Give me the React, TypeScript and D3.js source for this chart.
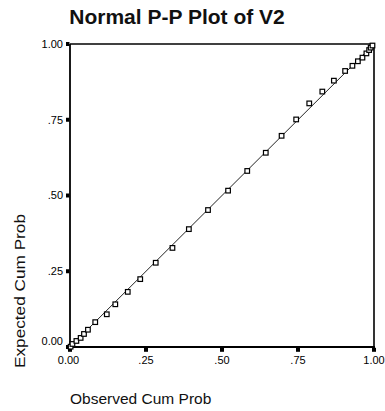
import React from "react";
import * as d3 from "d3";

const observed = [0.002, 0.008, 0.021, 0.035, 0.046, 0.059, 0.083, 0.121, 0.149, 0.19, 0.231, 0.282, 0.337, 0.391, 0.454, 0.52, 0.583, 0.644, 0.696, 0.744, 0.787, 0.83, 0.868, 0.905, 0.929, 0.947, 0.962, 0.975, 0.984, 0.989, 0.995];
const expected = [0.001, 0.01, 0.02, 0.03, 0.043, 0.057, 0.082, 0.108, 0.141, 0.182, 0.224, 0.278, 0.327, 0.389, 0.452, 0.516, 0.581, 0.641, 0.697, 0.751, 0.804, 0.843, 0.879, 0.911, 0.928, 0.943, 0.955, 0.969, 0.98, 0.988, 0.995];
const tickValues = [0, 0.25, 0.5, 0.75, 1];
const tickLabels = ["0.00", ".25", ".50", ".75", "1.00"];
const refLine = [0, 1];

const W = 385;
const H = 411;

export default function App() {
  const x = d3.scaleLinear().domain([0, 1]).range([70, 374]);
  const y = d3.scaleLinear().domain([0, 1]).range([347, 44]);
  const line = d3
    .line<number>()
    .x((d) => x(d))
    .y((d) => y(d));
  const font = "'Liberation Sans', Arial, sans-serif";
  return (
    <svg
      width={W}
      height={H}
      style={{ position: "absolute", left: 0, top: 0, background: "#fff" }}
      fontFamily={font}
    >
      <rect x={0} y={0} width={W} height={H} fill="#fff" />
      <text x={177} y={24} textAnchor="middle" fontSize={21} fontWeight="bold" fill="#111">
        Normal P-P Plot of V2
      </text>
      {/* reference line */}
      <path d={line(refLine) || ""} stroke="#222" strokeWidth={1} fill="none" />
      {/* frame */}
      <line x1={x(0)} x2={x(1)} y1={y(1)} y2={y(1)} stroke="#000" strokeWidth={1.6} />
      <line x1={x(1)} x2={x(1)} y1={y(1)} y2={y(0)} stroke="#000" strokeWidth={1.6} />
      <line x1={x(0)} x2={x(0)} y1={y(1)} y2={y(0) + 1} stroke="#000" strokeWidth={1.8} />
      <line x1={x(0) - 1} x2={x(1) + 1} y1={y(0)} y2={y(0)} stroke="#000" strokeWidth={1.8} />
      {/* y ticks */}
      {tickValues.map((v, i) => (
        <g key={"y" + i}>
          <rect x={x(0) - 4} y={y(v) - 2} width={3.5} height={4} fill="#000" />
          <text
            x={63}
            y={v === 0 ? 344.5 : y(v) + 3.8}
            textAnchor="end"
            fontSize={11}
            fill="#000"
          >
            {tickLabels[i]}
          </text>
        </g>
      ))}
      {/* x ticks */}
      {tickValues.map((v, i) => (
        <g key={"x" + i}>
          <rect x={x(v) - 2} y={y(0) + 0.8} width={4} height={4} fill="#000" />
          <text x={x(v) - (v === 0 ? 1.5 : 0)} y={363.5} textAnchor="middle" fontSize={11} fill="#000">
            {tickLabels[i]}
          </text>
        </g>
      ))}
      {/* points */}
      {observed.map((o, i) => (
        <rect
          key={"p" + i}
          x={x(o) - 2.3}
          y={y(expected[i]) - 2.3}
          width={4.6}
          height={4.6}
          fill="#fff"
          stroke="#000"
          strokeWidth={1.2}
        />
      ))}
      <text x={70} y={404} fontSize={15.5} fill="#111">
        Observed Cum Prob
      </text>
      <text
        transform="translate(25,368) rotate(-90)"
        x={0}
        y={0}
        fontSize={15.5}
        fill="#111"
        textLength={154}
        lengthAdjust="spacingAndGlyphs"
      >
        Expected Cum Prob
      </text>
    </svg>
  );
}
